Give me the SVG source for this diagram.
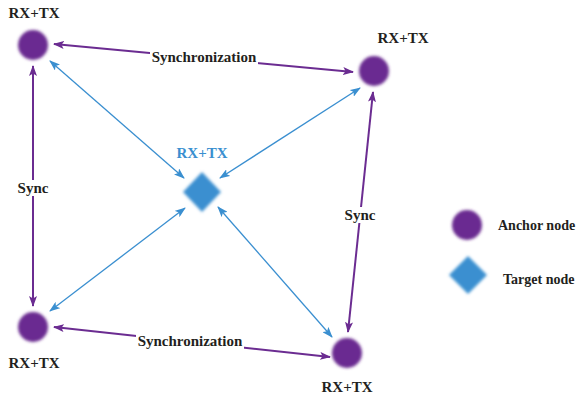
<svg xmlns="http://www.w3.org/2000/svg" width="584" height="397" viewBox="0 0 584 397">
<style>
.t{font-family:"Liberation Serif","Times New Roman",serif;font-weight:bold;font-size:15px;fill:#231f20;text-anchor:middle}
.tb{fill:#3a8fd0}
.lg{font-size:14px;text-anchor:start}
.p{stroke:#6b2c91;stroke-width:2;fill:none}
.b{stroke:#3a8fd0;stroke-width:1.3;fill:none}
.anc{fill:#6b2c91;filter:url(#blur)}
.tgt{fill:#3a8fd0;filter:url(#blur)}
</style>
<defs>
<filter id="blur" x="-30%" y="-30%" width="160%" height="160%"><feGaussianBlur stdDeviation="1.6"/></filter>
<marker id="mp" viewBox="0 0 11 8" refX="10" refY="4" markerWidth="11" markerHeight="8" markerUnits="userSpaceOnUse" orient="auto-start-reverse"><path d="M0,0 L11,4 L0,8 L2.5,4 Z" fill="#6b2c91"/></marker>
<marker id="mb" viewBox="0 0 11 8" refX="10" refY="4" markerWidth="11" markerHeight="8" markerUnits="userSpaceOnUse" orient="auto-start-reverse"><path d="M0,0 L11,4 L0,8 L2.5,4 Z" fill="#3a8fd0"/></marker>
</defs>
<g id="connectors">
<line class="p" x1="54" y1="44" x2="353" y2="72" marker-start="url(#mp)" marker-end="url(#mp)"/>
<line class="p" x1="54" y1="327" x2="330" y2="357" marker-start="url(#mp)" marker-end="url(#mp)"/>
<line class="p" x1="33" y1="66" x2="33" y2="306" marker-start="url(#mp)" marker-end="url(#mp)"/>
<line class="p" x1="373" y1="92" x2="348" y2="332" marker-start="url(#mp)" marker-end="url(#mp)"/>
<line class="b" x1="50" y1="61" x2="184" y2="178" marker-start="url(#mb)" marker-end="url(#mb)"/>
<line class="b" x1="220" y1="178" x2="360" y2="88" marker-start="url(#mb)" marker-end="url(#mb)"/>
<line class="b" x1="185" y1="208" x2="50" y2="311" marker-start="url(#mb)" marker-end="url(#mb)"/>
<line class="b" x1="218" y1="207" x2="332" y2="337" marker-start="url(#mb)" marker-end="url(#mb)"/>
<rect x="150" y="49" width="108" height="16" fill="#fff"/>
<text class="t" x="204" y="62">Synchronization</text>
<rect x="136" y="333" width="108" height="16" fill="#fff"/>
<text class="t" x="190" y="346">Synchronization</text>
<rect x="17" y="180" width="32" height="16" fill="#fff"/>
<text class="t" x="33" y="193">Sync</text>
<rect x="344" y="207" width="32" height="16" fill="#fff"/>
<text class="t" x="360" y="220">Sync</text>
</g>
<g id="node-tl">
<circle class="anc" cx="33" cy="45" r="15"/>
<text class="t" x="34" y="18">RX+TX</text>
</g>
<g id="node-tr">
<circle class="anc" cx="374" cy="71" r="15"/>
<text class="t" x="403" y="43">RX+TX</text>
</g>
<g id="node-bl">
<circle class="anc" cx="33" cy="327" r="15"/>
<text class="t" x="34" y="368">RX+TX</text>
</g>
<g id="node-br">
<circle class="anc" cx="347" cy="353" r="15"/>
<text class="t" x="347" y="392">RX+TX</text>
</g>
<g id="node-target">
<path class="tgt" d="M202,172 L221,192 L202,212 L183,192 Z"/>
<text class="t tb" x="202" y="158">RX+TX</text>
</g>
<g id="legend-anchor">
<circle class="anc" cx="467" cy="225" r="15"/>
<text class="t lg" x="498" y="230">Anchor node</text>
</g>
<g id="legend-target">
<path class="tgt" d="M468,256 L487,275 L468,294 L449,275 Z"/>
<text class="t lg" x="503" y="284">Target node</text>
</g>
</svg>
